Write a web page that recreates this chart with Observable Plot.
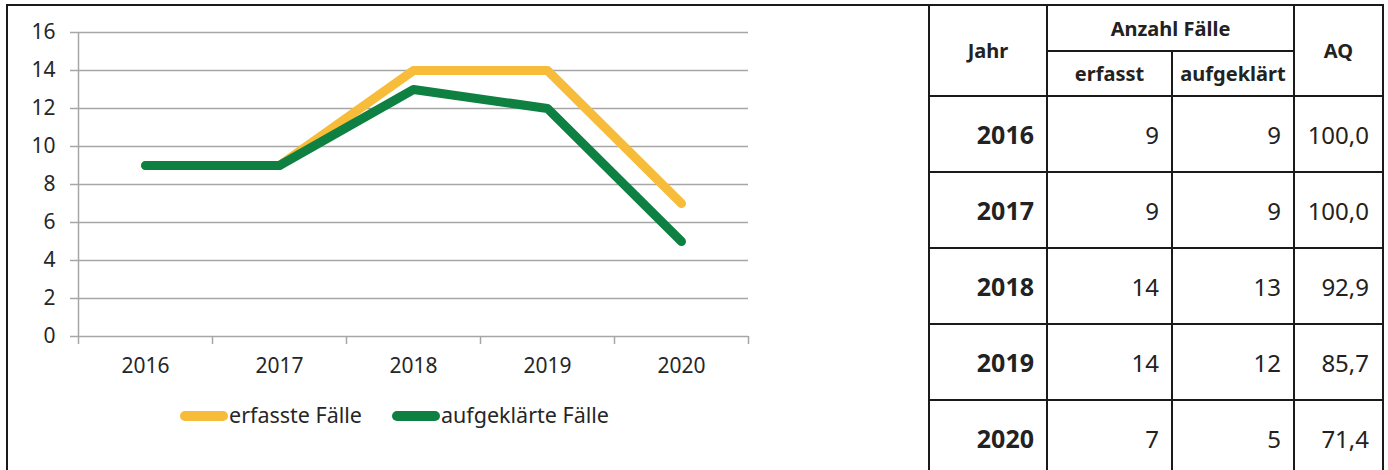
<!DOCTYPE html>
<html><head><meta charset="utf-8">
<script src="https://cdn.jsdelivr.net/npm/d3@7"></script>
<script src="https://cdn.jsdelivr.net/npm/@observablehq/plot@0.6"></script>
<style>
html,body{margin:0;padding:0;background:#fff}
body{width:1388px;height:470px;overflow:hidden;position:relative;font-family:"Noto Sans",sans-serif;color:#262626}
#frame{position:absolute;left:6px;top:4px;width:1376px;height:520px;border-left:2px solid #1a1a1a;border-top:2px solid #1a1a1a}
#chart{position:absolute;left:0;top:0}
.sw{position:absolute;width:48px;height:10px;border-radius:5px}
.lt{position:absolute;font-size:21.5px;line-height:26px;color:#262626;white-space:nowrap}
table{position:absolute;left:928px;top:4px;border-collapse:collapse;table-layout:fixed;font-family:"Noto Sans",sans-serif;color:#222}
th,td{border:2px solid #1a1a1a;padding:0}
th{font-size:20px;font-weight:700;text-align:center;vertical-align:middle}
td{font-size:24px;text-align:right;padding-right:12px;vertical-align:middle}
td.yr{font-weight:700;font-size:25px}
</style>
</head><body>
<div id="frame"></div>
<div id="chart"></div>
<div id="legend"></div>
<table id="tbl"></table>
<script>
const years = [2016, 2017, 2018, 2019, 2020];
const erfasst = [9, 9, 14, 14, 7];
const aufgeklaert = [9, 9, 13, 12, 5];
const aq = ["100,0", "100,0", "92,9", "85,7", "71,4"];
const yTicks = [0, 2, 4, 6, 8, 10, 12, 14, 16];
const seriesNames = ["erfasste Fälle", "aufgeklärte Fälle"];
const seriesColors = ["#F6BC3A", "#0E8042"];
const headJahr = "Jahr", headAnzahl = "Anzahl Fälle", headErf = "erfasst", headAuf = "aufgeklärt", headAQ = "AQ";

const data = years.flatMap((y, i) => [
  {year: y, value: erfasst[i], series: seriesNames[0]},
  {year: y, value: aufgeklaert[i], series: seriesNames[1]}
]);
const bounds = [...years.map(y => y - 0.5), years[years.length - 1] + 0.5];
const grey = "#a6a6a6";

const chart = Plot.plot({
  width: 760, height: 390,
  marginLeft: 78, marginRight: 12, marginTop: 32, marginBottom: 54,
  x: {domain: [bounds[0], bounds[bounds.length - 1]]},
  y: {domain: [0, 16]},
  color: {domain: seriesNames, range: seriesColors},
  style: {fontFamily: "Noto Sans", fontSize: "21px", color: "#262626", overflow: "visible", background: "transparent"},
  marks: [
    Plot.gridY(yTicks, {stroke: grey, strokeOpacity: 1, strokeWidth: 1.5}),
    Plot.axisY(yTicks, {tickSize: 8, tickPadding: 15, stroke: grey, strokeWidth: 1.5, fill: "#262626", label: null, fontSize: 21}),
    Plot.ruleX([bounds[0]], {stroke: grey, strokeWidth: 1.5}),
    Plot.axisX(bounds, {tickSize: 8, tickFormat: () => "", stroke: grey, strokeWidth: 1.5, label: null}),
    Plot.axisX(years, {tickSize: 0, tickPadding: 22, tickFormat: d => String(d), fill: "#262626", label: null, fontSize: 21}),
    Plot.line(data, {x: "year", y: "value", z: "series", stroke: "series", strokeWidth: 9, strokeLinecap: "round", strokeLinejoin: "round"})
  ]
});
document.getElementById("chart").appendChild(chart);

// legend
const legend = document.getElementById("legend");
const legPos = [180, 392];
seriesNames.forEach((name, i) => {
  const sw = document.createElement("div");
  sw.className = "sw"; sw.style.left = legPos[i] + "px"; sw.style.top = "411px"; sw.style.background = seriesColors[i];
  legend.appendChild(sw);
  const t = document.createElement("div");
  t.className = "lt"; t.style.left = (legPos[i] + 49) + "px"; t.style.top = "402px"; t.textContent = name;
  legend.appendChild(t);
});

// table
const tbl = document.getElementById("tbl");
let html = '<colgroup><col style="width:118px"><col style="width:125px"><col style="width:122px"><col style="width:89px"></colgroup>';
html += `<tr style="height:46px"><th rowspan="2">${headJahr}</th><th colspan="2">${headAnzahl}</th><th rowspan="2">${headAQ}</th></tr>`;
html += `<tr style="height:45px"><th>${headErf}</th><th>${headAuf}</th></tr>`;
years.forEach((y, i) => {
  html += `<tr style="height:76px"><td class="yr">${y}</td><td>${erfasst[i]}</td><td>${aufgeklaert[i]}</td><td style="padding-right:13px">${aq[i]}</td></tr>`;
});
tbl.innerHTML = html;
</script>
</body></html>
